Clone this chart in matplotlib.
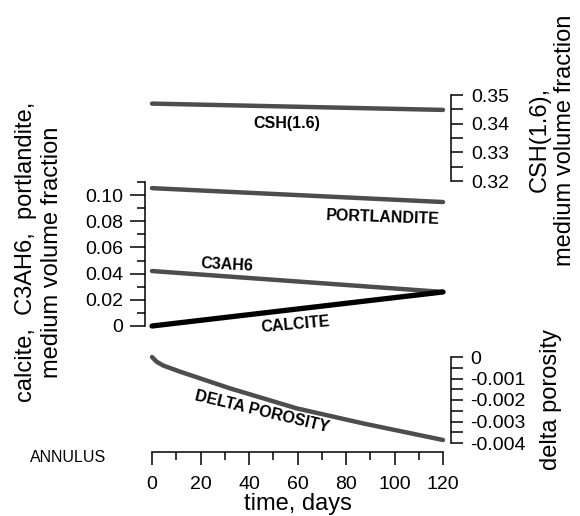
import numpy as np
import matplotlib
matplotlib.use("Agg")
import matplotlib.pyplot as plt
from matplotlib.ticker import MultipleLocator, FuncFormatter

plt.rcParams['font.family'] = ['Liberation Sans', 'DejaVu Sans']

# data
days = [0, 120]
csh = [0.347, 0.3448]
portlandite = [0.1053, 0.0947]
c3ah6 = [0.042, 0.026]
calcite = [0.0, 0.026]

dp_days = [0, 1.9, 4.7, 11.5, 32.2, 59.7, 87.1, 120]
dp = [0.0, -0.00022, -0.0004, -0.00068, -0.00146, -0.00239, -0.00309, -0.00386]

W, H = 580, 516
gray = '#4d4d4d'
tick_fs = 14
lab_fs = 17
tag_fs = 11.5


def box(y_top, y_bot):
    # axes rectangle in figure fractions from pixel rows
    return [152 / W, 1 - y_bot / H, 291 / W, (y_bot - y_top) / H]


def fmt(nd):
    return FuncFormatter(lambda v, p: '0' if abs(v) < 1e-12 else f'{v:.{nd}f}')


def clean(ax):
    for s in ax.spines.values():
        s.set_visible(False)
    ax.set_facecolor('none')
    ax.set_xlim(0, 120)
    ax.set_xticks([])
    ax.tick_params(width=1.1, labelsize=tick_fs, colors='black')


fig = plt.figure(figsize=(W / 100, H / 100), dpi=100)

# CSH panel (top, right axis)
ax_csh = fig.add_axes(box(95, 181))
clean(ax_csh)
ax_csh.plot(days, csh, color=gray, lw=3.2, clip_on=False, solid_capstyle='round')
ax_csh.set_ylim(0.32, 0.35)
ax_csh.spines['right'].set_visible(True)
ax_csh.spines['right'].set_position(('outward', 6))
ax_csh.spines['right'].set_linewidth(1.1)
ax_csh.yaxis.tick_right()
ax_csh.yaxis.set_major_locator(MultipleLocator(0.01))
ax_csh.yaxis.set_minor_locator(MultipleLocator(0.005))
ax_csh.yaxis.set_major_formatter(fmt(2))
ax_csh.tick_params(axis='y', which='major', length=8.5, pad=5.5)
ax_csh.tick_params(axis='y', which='minor', length=8.5, width=1.1)
ax_csh.text(55.7, 0.3402, 'CSH(1.6)', fontsize=tag_fs, fontweight='bold',
            ha='center', va='center')

# main panel (middle, left axis)
ax = fig.add_axes(box(182, 326))
clean(ax)
ax.plot(days, portlandite, color=gray, lw=3.2, clip_on=False, solid_capstyle='round')
ax.plot(days, c3ah6, color=gray, lw=3.2, clip_on=False, solid_capstyle='round')
ax.plot(days, calcite, color='black', lw=3.8, clip_on=False, solid_capstyle='round')
ax.set_ylim(0, 0.11)
ax.spines['left'].set_visible(True)
ax.spines['left'].set_position(('outward', 5))
ax.spines['left'].set_linewidth(1.1)
ax.yaxis.set_major_locator(MultipleLocator(0.02))
ax.yaxis.set_minor_locator(MultipleLocator(0.01))
ax.yaxis.set_major_formatter(fmt(2))
ax.tick_params(axis='y', which='major', length=10.5, pad=5)
ax.tick_params(axis='y', which='minor', length=6, width=1.1)
ax.text(95.3, 0.0832, 'PORTLANDITE', fontsize=tag_fs, fontweight='bold',
        ha='center', va='center', rotation=-2)
ax.text(30.9, 0.0466, 'C3AH6', fontsize=tag_fs, fontweight='bold',
        ha='center', va='center', rotation=-3)
ax.text(59, 0.0008, 'CALCITE', fontsize=tag_fs, fontweight='bold',
        ha='center', va='center', rotation=5)

# delta porosity panel (bottom, right axis + time axis)
ax_dp = fig.add_axes(box(357, 443))
clean(ax_dp)
ax_dp.plot(dp_days, dp, color=gray, lw=3.2, clip_on=False, solid_capstyle='round')
ax_dp.set_ylim(-0.004, 0)
ax_dp.spines['right'].set_visible(True)
ax_dp.spines['right'].set_position(('outward', 6))
ax_dp.spines['right'].set_linewidth(1.1)
ax_dp.yaxis.tick_right()
ax_dp.yaxis.set_major_locator(MultipleLocator(0.001))
ax_dp.yaxis.set_minor_locator(MultipleLocator(0.0005))
ax_dp.yaxis.set_major_formatter(fmt(3))
ax_dp.tick_params(axis='y', which='major', length=8.5, pad=5)
ax_dp.tick_params(axis='y', which='minor', length=8.5, width=1.1)
ax_dp.text(45.4, -0.00256, 'DELTA POROSITY', fontsize=tag_fs, fontweight='bold',
           ha='center', va='center', rotation=-13.5)

ax_dp.spines['bottom'].set_visible(True)
ax_dp.spines['bottom'].set_position(('outward', 6.5))
ax_dp.spines['bottom'].set_linewidth(1.1)
ax_dp.xaxis.set_major_locator(MultipleLocator(20))
ax_dp.xaxis.set_minor_locator(MultipleLocator(10))
ax_dp.tick_params(axis='x', which='major', length=9.5, pad=8)
ax_dp.tick_params(axis='x', which='minor', length=6, width=1.1)
ax_dp.set_xlabel('time, days', fontsize=lab_fs, labelpad=0)

# axis titles
fig.text(26 / W, 1 - 252 / H, 'calcite,  C3AH6,  portlandite,', fontsize=lab_fs,
         rotation=90, ha='center', va='center')
fig.text(52 / W, 1 - 252 / H, 'medium volume fraction', fontsize=lab_fs,
         rotation=90, ha='center', va='center')
fig.text(540 / W, 1 - 139 / H, 'CSH(1.6),', fontsize=lab_fs,
         rotation=90, ha='center', va='center')
fig.text(565 / W, 1 - 140 / H, 'medium volume fraction', fontsize=lab_fs,
         rotation=90, ha='center', va='center')
fig.text(551 / W, 1 - 400 / H, 'delta porosity', fontsize=lab_fs,
         rotation=90, ha='center', va='center')
fig.text(30 / W, 1 - 458 / H, 'ANNULUS', fontsize=11.5, ha='left', va='center')

fig.savefig('out.png', dpi=100)
